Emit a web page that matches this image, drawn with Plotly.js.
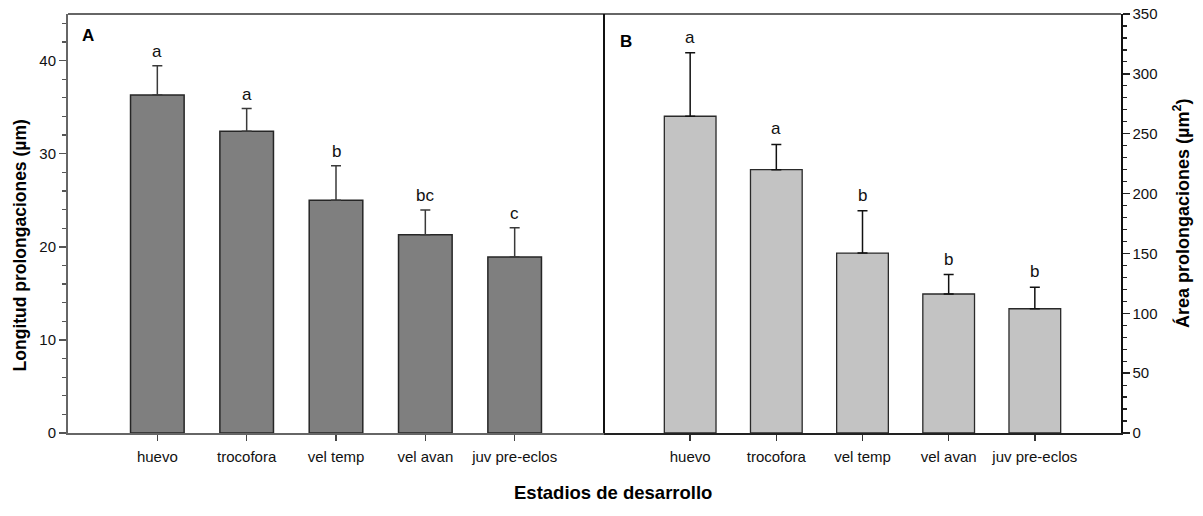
<!DOCTYPE html>
<html>
<head>
<meta charset="utf-8">
<script src="https://cdn.plot.ly/plotly-3.0.1.min.js"></script>
<style>html,body{margin:0;padding:0;background:#fff;}#chart{width:1203px;height:516px;}</style>
</head>
<body>
<div id="chart"></div>
<script>
var categories = ["huevo", "trocofora", "vel temp", "vel avan", "juv pre-eclos"];
var longitudMean = [36.3, 32.4, 25.0, 21.3, 18.9];
var longitudErr = [3.15, 2.45, 3.7, 2.65, 3.15];
var longitudLetters = ["a", "a", "b", "bc", "c"];
var areaMean = [264.6, 220.0, 150.3, 116.1, 103.8];
var areaErr = [53.0, 21.0, 35.3, 16.2, 17.9];
var areaLetters = ["a", "a", "b", "b", "b"];

var FONT = "Liberation Sans, Arial, sans-serif";
var idx = categories.map(function(_, i){ return i; });

var traceA = {
  type: "bar", x: idx, y: longitudMean, width: 0.6,
  xaxis: "x", yaxis: "y",
  marker: {color: "#7f7f7f", line: {color: "#262626", width: 1.5}},
  error_y: {type: "data", symmetric: false, array: longitudErr, arrayminus: longitudMean.map(function(){return 0;}),
            color: "#3a3a3a", thickness: 1.5, width: 5},
  showlegend: false, hoverinfo: "skip"
};
var traceB = {
  type: "bar", x: idx, y: areaMean, width: 0.6,
  xaxis: "x2", yaxis: "y2",
  marker: {color: "#c3c3c3", line: {color: "#2a2a2a", width: 1.3}},
  error_y: {type: "data", symmetric: false, array: areaErr, arrayminus: areaMean.map(function(){return 0;}),
            color: "#111", thickness: 1.5, width: 5},
  showlegend: false, hoverinfo: "skip"
};

var annotations = [];
idx.forEach(function(i){
  annotations.push({xref: "x", yref: "y", x: i, y: longitudMean[i] + longitudErr[i],
    text: longitudLetters[i], showarrow: false, yanchor: "bottom", yshift: 3,
    font: {family: FONT, size: 17, color: "#111"}});
  annotations.push({xref: "x2", yref: "y2", x: i, y: areaMean[i] + areaErr[i],
    text: areaLetters[i], showarrow: false, yanchor: "bottom", yshift: 4,
    font: {family: FONT, size: 17, color: "#111"}});
});
annotations.push({xref: "paper", yref: "paper", x: 0.0115, y: 0.948, xanchor: "left", yanchor: "middle",
  text: "<b>A</b>", showarrow: false, font: {family: FONT, size: 17, color: "#000"}});
annotations.push({xref: "paper", yref: "paper", x: 0.522, y: 0.934, xanchor: "left", yanchor: "middle",
  text: "<b>B</b>", showarrow: false, font: {family: FONT, size: 17, color: "#000"}});
annotations.push({xref: "paper", yref: "paper", x: -0.0455, y: 0.448, xanchor: "center", yanchor: "middle",
  textangle: -90, text: "<b>Longitud prolongaciones (µm)</b>", showarrow: false,
  font: {family: FONT, size: 17.5, color: "#000"}});
annotations.push({xref: "paper", yref: "paper", x: 1.058, y: 0.523, xanchor: "center", yanchor: "middle",
  textangle: -90, text: "<b>Área prolongaciones (µm<sup>2</sup>)</b>", showarrow: false,
  font: {family: FONT, size: 18, color: "#000"}});
annotations.push({xref: "paper", yref: "paper", x: 0.518, y: -0.143, xanchor: "center", yanchor: "middle",
  text: "<b>Estadios de desarrollo</b>", showarrow: false,
  font: {family: FONT, size: 18.5, color: "#000"}});

var dom = 536 / 1053;
var xcommon = {range: [-1, 5], tickmode: "array", tickvals: idx, ticktext: categories,
  ticks: "outside", ticklen: 6, tickwidth: 1.5, showgrid: false, zeroline: false,
  showline: true, linewidth: 2, ticklabelstandoff: 3,
  tickfont: {family: FONT, size: 15, color: "#111"}, fixedrange: true};
var layout = {
  width: 1203, height: 516,
  margin: {l: 68, r: 82, t: 14, b: 83, pad: 0},
  paper_bgcolor: "#fff", plot_bgcolor: "#fff",
  font: {family: FONT, size: 13, color: "#111"},
  xaxis: Object.assign({}, xcommon, {domain: [0, dom], tickcolor: "#444", linecolor: "#666"}),
  xaxis2: Object.assign({}, xcommon, {domain: [dom, 1], anchor: "y2", tickcolor: "#333", linecolor: "#222"}),
  yaxis: {range: [0, 45], tickmode: "linear", tick0: 0, dtick: 10, ticks: "outside", ticklen: 7,
    tickwidth: 1.5, tickcolor: "#555", showgrid: false, zeroline: false, showline: true, linecolor: "#666",
    linewidth: 2, anchor: "x", tickfont: {family: FONT, size: 15, color: "#111"},
    minor: {dtick: 2, ticks: "outside", ticklen: 4, tickwidth: 1.2, tickcolor: "#555", showgrid: false},
    fixedrange: true},
  yaxis2: {range: [0, 350], tickmode: "linear", tick0: 0, dtick: 50, ticks: "outside", ticklen: 7,
    tickwidth: 1.5, tickcolor: "#222", showgrid: false, zeroline: false, showline: true, linecolor: "#111",
    linewidth: 1.5, anchor: "x2", side: "right", tickfont: {family: FONT, size: 15, color: "#111"},
    minor: {dtick: 10, ticks: "outside", ticklen: 4, tickwidth: 1.2, tickcolor: "#222", showgrid: false},
    fixedrange: true},
  shapes: [
    {type: "line", xref: "paper", yref: "paper", x0: 0, x1: 1, y0: 1, y1: 1,
     line: {color: "#666", width: 2}},
    {type: "line", xref: "paper", yref: "paper", x0: dom, x1: dom, y0: 0, y1: 1,
     line: {color: "#111", width: 2}}
  ],
  annotations: annotations
};

Plotly.newPlot("chart", [traceA, traceB], layout, {displayModeBar: false, staticPlot: true});
</script>
</body>
</html>
